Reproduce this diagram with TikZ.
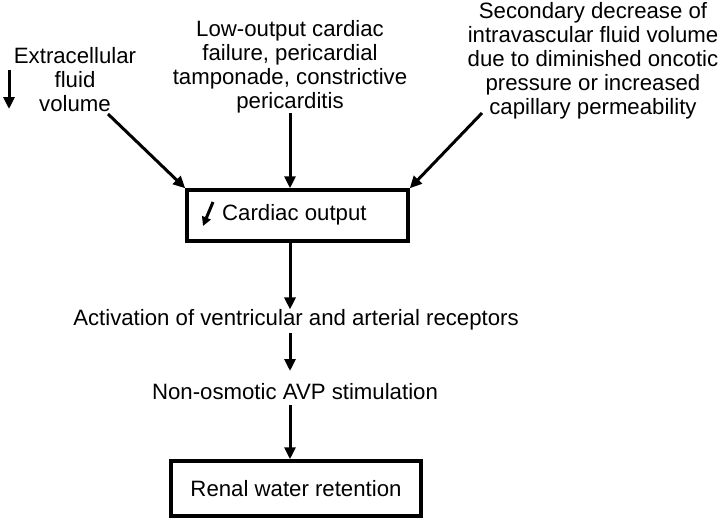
\documentclass[tikz,border=0pt]{standalone}
\usepackage{fontspec}
\setmainfont{Liberation Sans}
\usetikzlibrary{arrows.meta}
\begin{document}
\begin{tikzpicture}[x=1pt,y=-1pt,
  txt/.style={align=center,inner sep=0pt,font=\fontsize{22.2}{24}\selectfont},
  box/.style={draw,line width=3.5pt,inner sep=0pt},
  arr/.style={line width=3pt,-{Triangle[length=12pt,width=11pt]}}]
\useasboundingbox (0,0) rectangle (720,520);
\node[txt] (ecf) at (75,80) {Extracellular\\fluid\\volume};
\node[txt] (low) at (290,67) {Low-output cardiac\\failure, pericardial\\tamponade, constrictive\\pericarditis};
\node[txt] (sec) at (593,61) {Secondary decrease of\\intravascular fluid volume\\due to diminished oncotic\\pressure or increased\\capillary permeability};
\coordinate (d1) at (9,70);
\coordinate (d2) at (9,109);
\draw[arr] (d1) -- (d2);
\node[box,minimum width=221pt,minimum height=51pt] (co) at (297.5,215.5) {};
\node[txt,anchor=west] (cot) at (222,215) {Cardiac output};
\coordinate (c1) at (213,202);
\coordinate (c2) at (203,226);
\draw[line width=3pt,-{Triangle[length=9pt,width=9pt]}] (c1) -- (c2);
\coordinate (e1) at (108,114);
\coordinate (m1) at (290,113);
\coordinate (s1) at (482,113);
\draw[arr] (e1) -- (co.north west);
\draw[arr] (m1) -- (co.north -| m1);
\draw[arr] (s1) -- (co.north east);
\node[txt] (act) at (296,320) {Activation of ventricular and arterial receptors};
\node[txt] (avp) at (295,392) {Non-osmotic AVP stimulation};
\node[box,minimum width=250pt,minimum height=55pt] (ren) at (296,488.5) {};
\node[txt] (rent) at (296,489) {Renal water retention};
\coordinate (a0) at (290,242);
\coordinate (a1) at (290,333);
\coordinate (a2) at (290,405);
\draw[arr] (a0) -- (act.north -| a0);
\draw[arr] (a1) -- (290,371);
\draw[arr] (a2) -- (ren.north -| a2);
\end{tikzpicture}
\end{document}
